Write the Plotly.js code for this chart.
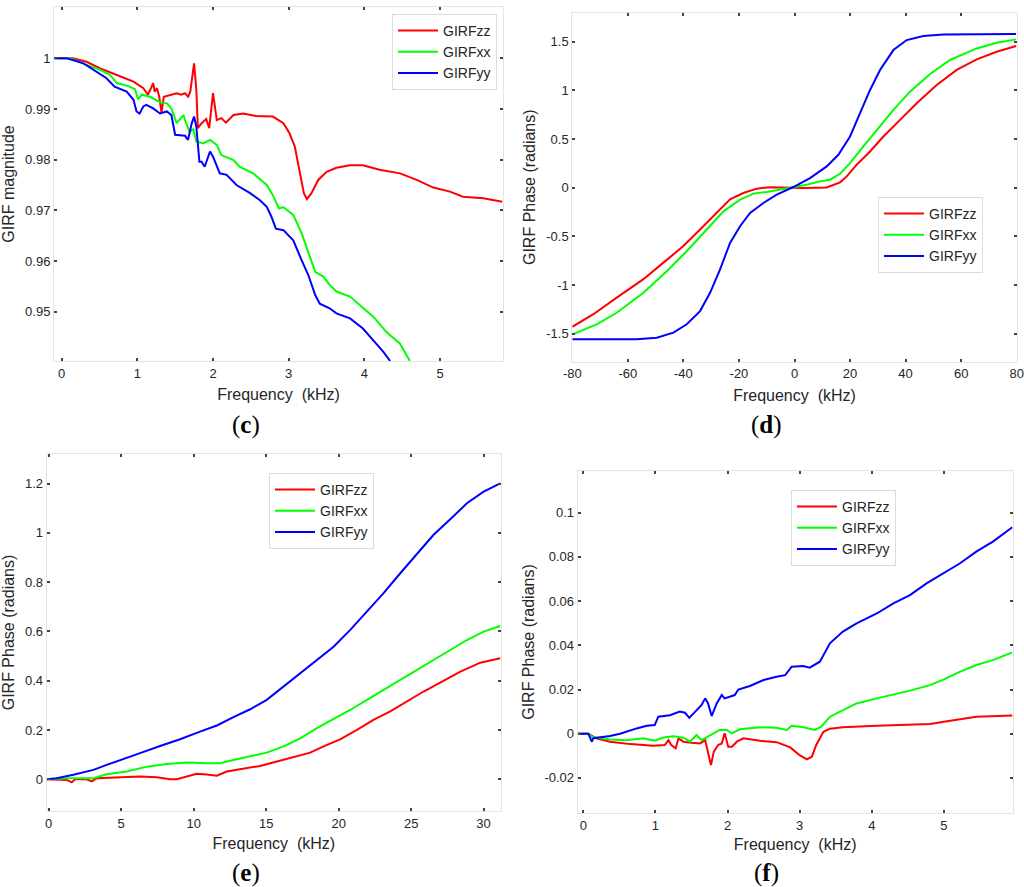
<!DOCTYPE html>
<html>
<head>
<meta charset="utf-8">
<script src="https://cdn.plot.ly/plotly-3.0.1.min.js"></script>
<style>html,body{margin:0;padding:0;background:#fff;}#chart{width:1024px;height:887px;}</style>
</head>
<body>
<div id="chart"></div>
<script>
// ---------- Panel (c): GIRF magnitude ----------
const c_zz_f = [-0.09,0.15,0.33,0.51,0.73,0.95,1.08,1.14,1.19,1.21,1.23,1.26,1.29,1.32,1.35,1.43,1.52,1.58,1.63,1.67,1.70,1.75,1.78,1.80,1.85,1.91,1.95,2.00,2.05,2.11,2.17,2.27,2.40,2.57,2.79,2.93,3.01,3.08,3.15,3.20,3.24,3.30,3.39,3.50,3.63,3.81,3.98,4.20,4.47,4.69,4.91,5.13,5.30,5.57,5.82];
const c_zz_v = [1.0,1.0,0.9993,0.998,0.9967,0.9954,0.9941,0.9928,0.9944,0.9951,0.9934,0.9941,0.9924,0.9893,0.9924,0.9928,0.9931,0.9928,0.9931,0.9924,0.9934,0.999,0.9937,0.9862,0.9872,0.988,0.9862,0.9931,0.9878,0.9882,0.9873,0.9888,0.9891,0.9886,0.9885,0.9872,0.9852,0.9826,0.9773,0.9734,0.9722,0.9734,0.976,0.9776,0.9784,0.9789,0.9789,0.978,0.9773,0.976,0.9745,0.9737,0.9727,0.9724,0.9717];
const c_xx_f = [-0.09,0.11,0.33,0.51,0.64,0.73,0.88,0.97,1.01,1.06,1.17,1.30,1.39,1.45,1.52,1.61,1.63,1.69,1.74,1.78,1.87,1.96,2.05,2.11,2.27,2.35,2.53,2.71,2.79,2.87,2.93,3.06,3.17,3.26,3.35,3.46,3.54,3.63,3.81,3.94,4.12,4.29,4.47,4.60];
const c_xx_v = [1.0,1.0,0.9987,0.9977,0.9967,0.9951,0.9945,0.9939,0.9919,0.9928,0.9924,0.9913,0.9911,0.9901,0.9872,0.9888,0.9878,0.9855,0.986,0.9836,0.9832,0.9839,0.9829,0.9809,0.9799,0.9786,0.9773,0.975,0.973,0.9704,0.9706,0.9691,0.9655,0.9618,0.9579,0.9569,0.9553,0.954,0.953,0.9513,0.949,0.946,0.9437,0.9403];
const c_yy_f = [-0.09,0.07,0.29,0.46,0.59,0.70,0.86,0.95,0.99,1.03,1.08,1.12,1.21,1.30,1.39,1.45,1.50,1.63,1.67,1.72,1.75,1.78,1.82,1.85,1.89,1.96,2.00,2.09,2.18,2.31,2.49,2.62,2.71,2.77,2.83,2.93,3.06,3.17,3.26,3.35,3.41,3.54,3.63,3.81,3.98,4.12,4.25,4.34];
const c_yy_v = [1.0,1.0,0.999,0.9974,0.9961,0.9944,0.9934,0.9918,0.9895,0.9891,0.9905,0.9908,0.9901,0.9891,0.9895,0.9888,0.9849,0.9847,0.9839,0.9872,0.9885,0.9865,0.9796,0.9796,0.9786,0.9816,0.9806,0.9773,0.977,0.975,0.9734,0.972,0.9707,0.9688,0.9664,0.9661,0.9641,0.9602,0.9572,0.9533,0.9516,0.9507,0.9497,0.9487,0.9467,0.9443,0.9421,0.9403];

// ---------- Panel (d): GIRF phase, -80..80 kHz ----------
const d_zz_f = [-80,-72.4,-64,-54.4,-47.2,-40,-34,-28,-23.2,-18.4,-13.6,-8.8,-0.4,3.2,11.6,16.4,18.8,22.4,27.2,32,38,44,51.2,58.4,65.6,72.8,79.8];
const d_zz_v = [-1.43,-1.30,-1.13,-0.94,-0.77,-0.60,-0.43,-0.26,-0.12,-0.055,-0.01,0.005,0.003,-0.003,0.003,0.055,0.116,0.236,0.372,0.526,0.697,0.868,1.056,1.21,1.319,1.397,1.455];
const d_xx_f = [-80,-71.2,-64,-54.4,-46,-38.8,-31.6,-25.6,-19.6,-14.8,-10,-4,0.2,4.4,9.2,12.8,16.4,20,24.8,29.6,35.6,41.6,48.8,56,65.6,72.8,79.8];
const d_xx_v = [-1.507,-1.404,-1.285,-1.08,-0.858,-0.653,-0.43,-0.243,-0.123,-0.061,-0.044,-0.014,0.007,0.031,0.065,0.082,0.143,0.253,0.424,0.594,0.8,0.987,1.168,1.312,1.431,1.49,1.524];
const d_yy_f = [-80,-56.8,-49.6,-43.6,-38.8,-34,-30.4,-26.8,-23.2,-19.6,-16,-11.2,-6.4,-0.4,5.6,11.6,15.8,20,23.6,27.2,30.8,35.6,40.4,46.4,53.6,79.8];
const d_yy_v = [-1.558,-1.558,-1.541,-1.49,-1.404,-1.268,-1.08,-0.84,-0.567,-0.396,-0.26,-0.157,-0.072,0.007,0.099,0.219,0.338,0.526,0.765,1.004,1.209,1.414,1.517,1.558,1.575,1.578];

// ---------- Panel (e): GIRF phase, 0..31 kHz ----------
const e_zz_f = [-0.14,1.24,1.59,1.82,2.62,2.97,3.31,4.69,6.3,7.45,8.37,8.83,9.52,10.21,10.9,11.6,12.28,13.2,14.58,15.74,16.88,18.04,18.96,20.1,21.26,22.4,23.56,24.7,25.86,27.0,28.4,29.77,31.15];
const e_zz_v = [0,-0.003,-0.013,0,0,-0.009,0.004,0.007,0.011,0.008,0,0,0.011,0.022,0.019,0.014,0.031,0.041,0.054,0.072,0.089,0.108,0.133,0.162,0.2,0.241,0.275,0.315,0.356,0.392,0.437,0.473,0.491];
const e_xx_f = [-0.14,1.24,3.08,4.0,5.38,6.76,8.14,9.52,10.9,11.82,12.74,13.9,15.04,16.2,17.35,18.5,19.65,20.8,21.95,23.1,24.25,25.4,26.55,27.7,28.85,30.0,31.15];
const e_xx_v = [0,0.004,0.004,0.02,0.031,0.051,0.062,0.068,0.065,0.065,0.078,0.092,0.108,0.133,0.166,0.207,0.244,0.281,0.322,0.363,0.403,0.444,0.484,0.525,0.565,0.599,0.622];
const e_yy_f = [-0.14,0.55,1.7,3.08,4.0,4.92,6.3,7.68,9.06,10.44,11.6,12.74,13.9,15.04,16.2,17.35,18.5,19.65,20.8,21.95,23.1,24.25,25.4,26.55,27.7,28.85,30.0,31.15];
const e_yy_v = [0,0.004,0.018,0.038,0.058,0.076,0.106,0.135,0.162,0.193,0.218,0.252,0.284,0.322,0.376,0.43,0.484,0.538,0.606,0.68,0.755,0.836,0.913,0.992,1.055,1.12,1.167,1.201];

// ---------- Panel (f): GIRF phase, 0..6 kHz ----------
const f_zz_f = [-0.08,0.07,0.18,0.37,0.65,0.97,1.13,1.18,1.22,1.28,1.32,1.39,1.50,1.62,1.69,1.73,1.77,1.81,1.87,1.92,1.96,2.01,2.06,2.13,2.22,2.45,2.68,2.87,3.00,3.10,3.17,3.23,3.33,3.42,3.60,4.07,4.53,4.81,5.0,5.27,5.45,5.95];
const f_zz_v = [0,0,-0.0021,-0.0036,-0.0047,-0.0054,-0.0051,-0.0029,-0.0051,-0.0066,-0.0021,-0.0036,-0.0041,-0.0044,-0.0029,-0.0081,-0.0142,-0.0081,-0.0051,-0.0044,0.0002,-0.0059,-0.0059,-0.0036,-0.0021,-0.0032,-0.0038,-0.0062,-0.0097,-0.0116,-0.0104,-0.0051,0.0009,0.0023,0.0029,0.0036,0.0042,0.0044,0.0054,0.0066,0.0077,0.0083];
const f_xx_f = [-0.08,0.07,0.116,0.37,0.6,0.83,0.99,1.11,1.25,1.39,1.48,1.57,1.64,1.76,1.89,1.99,2.06,2.17,2.45,2.68,2.82,2.89,3.05,3.21,3.30,3.42,3.60,3.79,4.07,4.53,4.81,5.0,5.22,5.45,5.68,5.95];
const f_xx_v = [0,0,-0.0014,-0.0026,-0.0029,-0.0021,-0.0032,-0.0017,-0.0011,-0.0018,-0.0036,-0.0006,-0.0029,-0.0006,0.0017,0.0017,0.0002,0.002,0.0029,0.0027,0.0017,0.0036,0.0029,0.0017,0.0032,0.0077,0.0107,0.0137,0.016,0.0195,0.022,0.0246,0.028,0.0311,0.0333,0.0368];
const f_yy_f = [-0.08,0.07,0.116,0.14,0.37,0.51,0.74,0.88,0.99,1.04,1.2,1.34,1.41,1.47,1.53,1.64,1.69,1.73,1.78,1.85,1.92,1.96,2.10,2.15,2.31,2.50,2.68,2.80,2.89,3.05,3.14,3.28,3.42,3.60,3.79,4.07,4.30,4.53,4.76,5.0,5.22,5.45,5.68,5.95];
const f_yy_v = [0,0,-0.0036,-0.002,-0.001,0,0.0024,0.0036,0.0039,0.0077,0.0084,0.01,0.0095,0.0072,0.0092,0.013,0.016,0.0137,0.008,0.0137,0.0175,0.016,0.0175,0.02,0.0216,0.0243,0.0258,0.0265,0.0303,0.0306,0.0299,0.0326,0.0409,0.0462,0.0499,0.0544,0.059,0.0627,0.068,0.0725,0.077,0.0824,0.0869,0.0934];

// ---------- Series names, tick labels ----------
const seriesNames = ['GIRFzz','GIRFxx','GIRFyy'];
const seriesColors = ['#ff0000','#00ff00','#0000ff'];
const c_xticks = [0,1,2,3,4,5];
const c_yticks = [0.95,0.96,0.97,0.98,0.99,1];
const c_yticklabels = ['0.95','0.96','0.97','0.98','0.99','1'];
const d_xticks = [-80,-60,-40,-20,0,20,40,60,80];
const d_xticklabels = ['-80','-60','-40','-20','0','20','40','60','80'];
const d_yticks = [-1.5,-1,-0.5,0,0.5,1,1.5];
const d_yticklabels = ['-1.5','-1','-0.5','0','0.5','1','1.5'];
const e_xticks = [0,5,10,15,20,25,30];
const e_yticks = [0,0.2,0.4,0.6,0.8,1,1.2];
const e_yticklabels = ['0','0.2','0.4','0.6','0.8','1','1.2'];
const f_xticks = [0,1,2,3,4,5];
const f_yticks = [-0.02,0,0.02,0.04,0.06,0.08,0.1];
const f_yticklabels = ['-0.02','0','0.02','0.04','0.06','0.08','0.1'];
const panelLetters = ['c','d','e','f'];

const W = 1024, H = 887;
const px = v => v / W;
const py = v => 1 - v / H;

const panels = [
  {id:'', series:[[c_zz_f,c_zz_v],[c_xx_f,c_xx_v],[c_yy_f,c_yy_v]], legend:'legend'},
  {id:'2', series:[[d_zz_f,d_zz_v],[d_xx_f,d_xx_v],[d_yy_f,d_yy_v]], legend:'legend2'},
  {id:'3', series:[[e_zz_f,e_zz_v],[e_xx_f,e_xx_v],[e_yy_f,e_yy_v]], legend:'legend3'},
  {id:'4', series:[[f_zz_f,f_zz_v],[f_xx_f,f_xx_v],[f_yy_f,f_yy_v]], legend:'legend4'}
];

const traces = [];
panels.forEach(p => {
  p.series.forEach((s, i) => {
    traces.push({
      x: s[0], y: s[1], type: 'scatter', mode: 'lines',
      name: seriesNames[i],
      line: {color: seriesColors[i], width: 2},
      xaxis: 'x' + p.id, yaxis: 'y' + p.id,
      legend: p.legend
    });
  });
});

const tickFont = {family: 'Liberation Sans, Arial, sans-serif', size: 13, color: '#262626'};
const titleFont = {family: 'Liberation Sans, Arial, sans-serif', size: 16, color: '#262626'};
function ax(domain, range, tickvals, ticktext, title, anchor, standoff) {
  const a = {
    domain: domain, range: range, tickmode: 'array', tickvals: tickvals,
    showgrid: false, zeroline: false, showline: true, mirror: 'ticks',
    linecolor: '#e3e3e3', linewidth: 1,
    ticks: 'inside', ticklen: 3, tickwidth: 2, tickcolor: '#444',
    tickfont: tickFont, anchor: anchor,
    title: {text: title, font: titleFont, standoff: standoff}
  };
  if (ticktext) a.ticktext = ticktext;
  return a;
}

const freqTitle = 'Frequency\u00a0 (kHz)';
const legendBase = {
  bgcolor: '#ffffff', bordercolor: '#dcdcdc', borderwidth: 1,
  font: {family: 'Liberation Sans, Arial, sans-serif', size: 14, color: '#262626'},
  xanchor: 'left', yanchor: 'top', itemwidth: 40, tracegroupgap: 0
};

const layout = {
  width: W, height: H,
  margin: {l: 0, r: 0, t: 0, b: 0},
  paper_bgcolor: '#ffffff', plot_bgcolor: '#ffffff',
  showlegend: true,
  xaxis:  ax([px(54), px(503)], [-0.1, 5.83], c_xticks, null, freqTitle, 'y', 9),
  yaxis:  ax([py(361), py(7)], [0.9403, 1.0101], c_yticks, c_yticklabels, 'GIRF magnitude', 'x', 6),
  xaxis2: ax([px(572.3), px(1016.7)], [-80, 80], d_xticks, d_xticklabels, freqTitle, 'y2', 9),
  yaxis2: ax([py(361.7), py(12.7)], [-1.788, 1.798], d_yticks, d_yticklabels, 'GIRF Phase (radians)', 'x2', 6),
  xaxis3: ax([px(46.7), px(501)], [-0.14, 31.2], e_xticks, null, freqTitle, 'y3', 8),
  yaxis3: ax([py(811), py(454)], [-0.129, 1.32], e_yticks, e_yticklabels, 'GIRF Phase (radians)', 'x3', 7),
  xaxis4: ax([px(577.7), px(1012.7)], [-0.078, 5.955], f_xticks, null, freqTitle, 'y4', 6),
  yaxis4: ax([py(813.3), py(470.7)], [-0.036, 0.119], f_yticks, f_yticklabels, 'GIRF Phase (radians)', 'x4', 5),
  legend:  Object.assign({}, legendBase, {x: px(392), y: py(14)}),
  legend2: Object.assign({}, legendBase, {x: px(878), y: py(197)}),
  legend3: Object.assign({}, legendBase, {x: px(269), y: py(473)}),
  legend4: Object.assign({}, legendBase, {x: px(791), y: py(490)}),
  annotations: [
    [245.7, 425, panelLetters[0]], [766.7, 425, panelLetters[1]],
    [245.7, 873, panelLetters[2]], [766.7, 873, panelLetters[3]]
  ].map(a => ({
    xref: 'paper', yref: 'paper', x: px(a[0]), y: py(a[1]),
    xanchor: 'center', yanchor: 'middle', showarrow: false,
    text: '(<b>' + a[2] + '</b>)',
    font: {family: 'Liberation Serif, Times New Roman, serif', size: 25, color: '#000'}
  }))
};

Plotly.newPlot('chart', traces, layout, {staticPlot: true, displayModeBar: false});
</script>
</body>
</html>
